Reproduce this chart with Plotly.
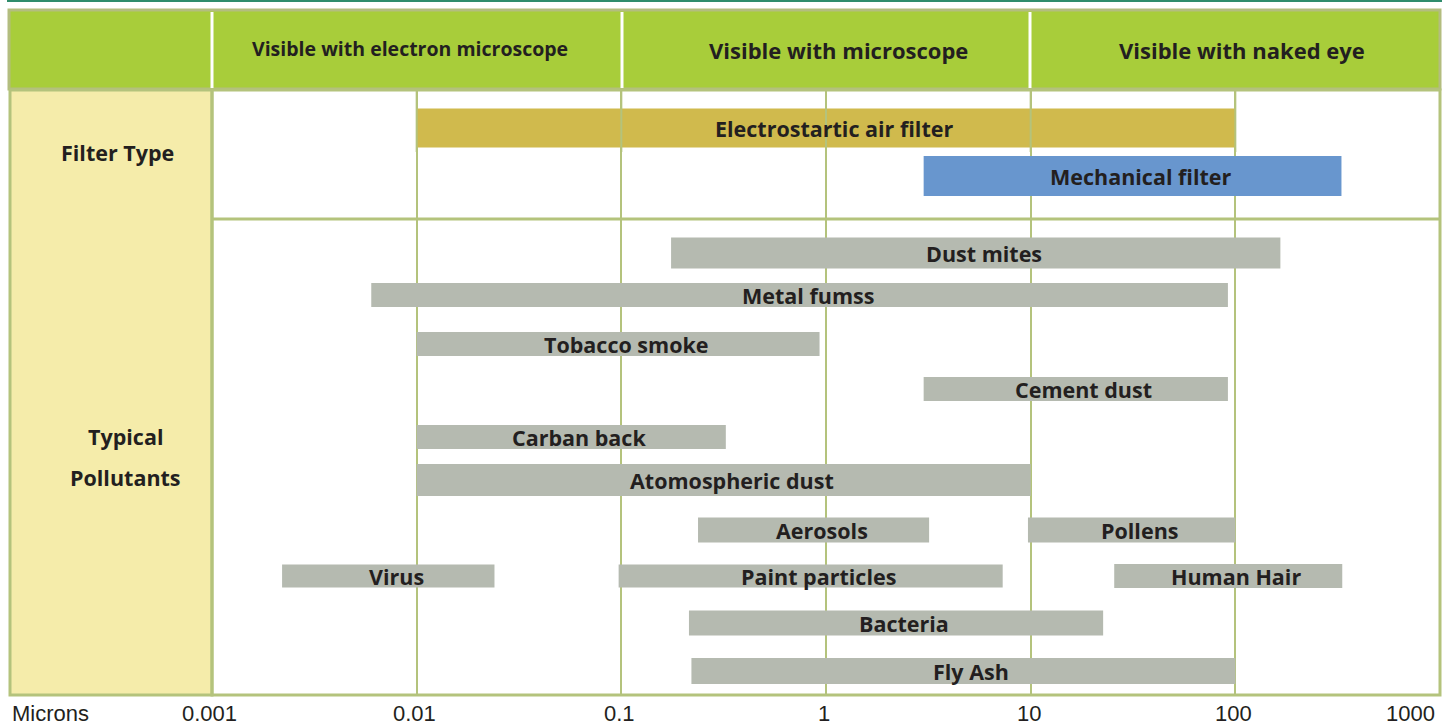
import math
import plotly.graph_objects as go

# ---------------- data ----------------
filter_names = ["Electrostartic air filter", "Mechanical filter"]
filter_start = [0.01, 3.0]
filter_end = [100, 330]

pollutant_names = ["Dust mites", "Metal fumss", "Tobacco smoke", "Cement dust", "Carban back",
                   "Atomospheric dust", "Aerosols", "Pollens", "Virus", "Paint particles",
                   "Human Hair", "Bacteria", "Fly Ash"]
pollutant_start = [0.175, 0.006, 0.01, 3.0, 0.01, 0.01, 0.237, 9.7, 0.0022, 0.097, 25.6, 0.214, 0.22]
pollutant_end = [166, 92, 0.93, 92, 0.324, 10, 3.19, 100, 0.024, 7.3, 333, 22.6, 100]

tick_vals = [0.001, 0.01, 0.1, 1, 10, 100, 1000]
tick_text = ["0.001", "0.01", "0.1", "1", "10", "100", "1000"]

header_labels = ["Visible with electron microscope", "Visible with microscope", "Visible with naked eye"]
section_labels = ["Filter Type", "Typical", "Pollutants"]
axis_title = "Microns"

# ---------------- layout (pixel geometry) ----------------
W, H = 1451, 726
filter_rows = [128, 176]
filter_heights = [39, 40]
pollutant_rows = [253, 295, 344, 389, 437, 480, 530, 530, 576, 576, 576, 623, 671]
pollutant_heights = [31, 24, 24, 24, 24, 32, 25, 25, 23, 23, 24, 25, 26]

PL, PR, PT, PB = 212, 1440, 90, 695
DIV_Y = 219


def px(x):
    return x / W


def py(y):
    return 1 - y / H


OLIVE = "#b4c37c"
TXT = "#231f20"
FONT_B = "Open Sans"
BAR_FS = 21.5
LABEL_DX, LABEL_DY = 8, 0   # small uniform nudge of bar labels (pixels)

fig = go.Figure()
annotations = []


def add_bars(names, starts, ends, rows, heights, color):
    fig.add_trace(go.Bar(
        orientation="h",
        y=rows,
        x=[e - s for s, e in zip(starts, ends)],
        base=starts,
        width=heights,
        marker=dict(color=color, line=dict(width=0)),
        hoverinfo="skip",
        showlegend=False,
    ))
    for n, s, e, r in zip(names, starts, ends, rows):
        annotations.append(dict(xref="x", yref="y", x=(math.log10(s) + math.log10(e)) / 2, y=r,
                                text=n, showarrow=False, xanchor="center", yanchor="middle",
                                xshift=LABEL_DX, yshift=LABEL_DY,
                                font=dict(family=FONT_B, size=BAR_FS, color=TXT, weight="bold")))


add_bars([filter_names[0]], [filter_start[0]], [filter_end[0]], [filter_rows[0]], [filter_heights[0]], "#d0ba4d")
add_bars([filter_names[1]], [filter_start[1]], [filter_end[1]], [filter_rows[1]], [filter_heights[1]], "#6896ce")
add_bars(pollutant_names, pollutant_start, pollutant_end, pollutant_rows, pollutant_heights, "#b5bab0")

shapes = []
# top teal line
shapes.append(dict(type="line", xref="paper", yref="paper", x0=px(7), x1=px(1442), y0=py(1), y1=py(1),
                   line=dict(color="#2f8c6c", width=2), layer="above"))
# header band
shapes.append(dict(type="rect", xref="paper", yref="paper", x0=px(9), x1=px(1440), y0=py(89), y1=py(10),
                   fillcolor="#a8cd3a", line=dict(color="#b3bd7f", width=3), layer="above"))
for hx in [212, 622, 1030]:
    shapes.append(dict(type="line", xref="paper", yref="paper", x0=px(hx), x1=px(hx), y0=py(88), y1=py(12),
                       line=dict(color="white", width=3), layer="above"))
# left yellow column
shapes.append(dict(type="rect", xref="paper", yref="paper", x0=px(10), x1=px(212), y0=py(PB), y1=py(PT),
                   fillcolor="#f5ecaa", line=dict(color=OLIVE, width=3), layer="above"))
# gridlines drawn over the electrostatic bar only
for v in tick_vals[1:-1]:
    shapes.append(dict(type="line", xref="x", yref="y", x0=v, x1=v, y0=PT, y1=152,
                       line=dict(color=OLIVE, width=2), layer="above"))
# divider between filter and pollutant sections
shapes.append(dict(type="line", xref="paper", yref="y", x0=px(PL), x1=px(PR), y0=DIV_Y, y1=DIV_Y,
                   line=dict(color=OLIVE, width=3), layer="above"))
# plot area border
shapes.append(dict(type="rect", xref="paper", yref="paper", x0=px(PL), x1=px(PR), y0=py(PB), y1=py(PT),
                   line=dict(color=OLIVE, width=3), layer="above"))

hdr_x = [410, 838, 1242]
hdr_y = [48, 50, 50]
hdr_size = [19.5, 22, 22]
for lab, hx, hy, hs in zip(header_labels, hdr_x, hdr_y, hdr_size):
    annotations.append(dict(xref="paper", yref="paper", x=px(hx), y=py(hy), text=lab,
                            showarrow=False, xanchor="center", yanchor="middle",
                            font=dict(family=FONT_B, size=hs, color=TXT, weight="bold")))
sec_x = [117, 125, 125]
sec_y = [152, 436, 477]
for lab, sx, sy in zip(section_labels, sec_x, sec_y):
    annotations.append(dict(xref="paper", yref="paper", x=px(sx), y=py(sy), text=lab,
                            showarrow=False, xanchor="center", yanchor="middle",
                            font=dict(family=FONT_B, size=21.5, color=TXT, weight="bold")))
# tick labels
for v, t in zip(tick_vals, tick_text):
    last = (v == tick_vals[-1])
    annotations.append(dict(xref="x", yref="paper", x=math.log10(v), y=py(713), text=t,
                            showarrow=False, xanchor="right" if last else "center", yanchor="middle",
                            xshift=-3 if last else -2,
                            font=dict(family="Liberation Sans", size=22, color=TXT)))
annotations.append(dict(xref="paper", yref="paper", x=px(10), y=py(713), text=axis_title,
                        showarrow=False, xanchor="left", yanchor="middle",
                        font=dict(family="Liberation Sans", size=22, color=TXT)))

fig.update_layout(
    width=W, height=H,
    margin=dict(l=0, r=0, t=0, b=0),
    paper_bgcolor="white", plot_bgcolor="white",
    barmode="overlay",
    showlegend=False,
    xaxis=dict(type="log", range=[-3, 3], domain=[px(PL), px(PR)], tickvals=tick_vals,
               showticklabels=False, ticks="", showgrid=True, gridcolor=OLIVE, gridwidth=2,
               zeroline=False, showline=False, fixedrange=True),
    yaxis=dict(range=[PB, PT], domain=[py(PB), py(PT)], showticklabels=False, ticks="",
               showgrid=False, zeroline=False, showline=False, fixedrange=True),
    shapes=shapes,
    annotations=annotations,
)

fig.write_html("out.html", config={"displayModeBar": False},
               post_script="document.body.style.margin='0';")
